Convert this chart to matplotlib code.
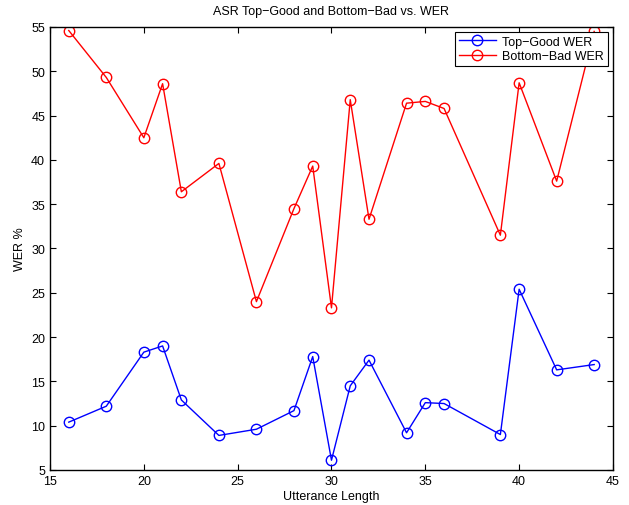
import numpy as np
import matplotlib
matplotlib.use('Agg')
import matplotlib.pyplot as plt

plt.rcParams['font.family'] = ['Liberation Sans', 'DejaVu Sans']

# -------------------------------------------------
# Data
# -------------------------------------------------
utt_len = [16, 18, 20, 21, 22, 24, 26, 28, 29, 30, 31, 32, 34, 35, 36, 39, 40, 42, 44]
top_good_wer = [10.4, 12.2, 18.3, 19.0, 12.9, 8.9, 9.6, 11.7, 17.8, 6.1,
                14.5, 17.4, 9.2, 12.6, 12.5, 9.0, 25.4, 16.3, 16.9]
bottom_bad_wer = [54.6, 49.3, 42.5, 48.6, 36.4, 39.6, 24.0, 34.5, 39.3, 23.3,
                  46.8, 33.3, 46.4, 46.6, 45.8, 31.5, 48.7, 37.6, 54.5]

x_ticks = [15, 20, 25, 30, 35, 40, 45]
y_ticks = [5, 10, 15, 20, 25, 30, 35, 40, 45, 50, 55]

# -------------------------------------------------
# Plot
# -------------------------------------------------
fig = plt.figure(figsize=(6.29, 5.06), dpi=100)
ax = fig.add_axes([0.0795, 0.0692, 0.895, 0.8755])

ax.plot(utt_len, top_good_wer, color='blue', lw=1, marker='o',
        ms=7.5, mfc='none', mew=1, label='Top-Good WER')
ax.plot(utt_len, bottom_bad_wer, color='red', lw=1, marker='o',
        ms=7.5, mfc='none', mew=1, label='Bottom-Bad WER')

ax.set_xlim(15, 45)
ax.set_ylim(5, 55)
ax.set_xticks(x_ticks)
ax.set_yticks(y_ticks)
ax.tick_params(direction='in', top=True, right=True, length=4, labelsize=9)
for s in ax.spines.values():
    s.set_linewidth(1)

ax.set_xlabel('Utterance Length', fontsize=9, labelpad=2)
ax.set_ylabel('WER %', fontsize=9, labelpad=4)
ax.set_title('ASR Top\u2212Good and Bottom\u2212Bad vs. WER', fontsize=9, pad=9)

leg = ax.legend(['Top\u2212Good WER', 'Bottom\u2212Bad WER'], loc='upper right',
                fontsize=9, fancybox=False, framealpha=1, edgecolor='black',
                borderaxespad=0.4, handlelength=3.0, borderpad=0.3,
                labelspacing=0.2, handletextpad=0.5)
leg.get_frame().set_linewidth(0.8)

fig.savefig('out.png', dpi=100)
